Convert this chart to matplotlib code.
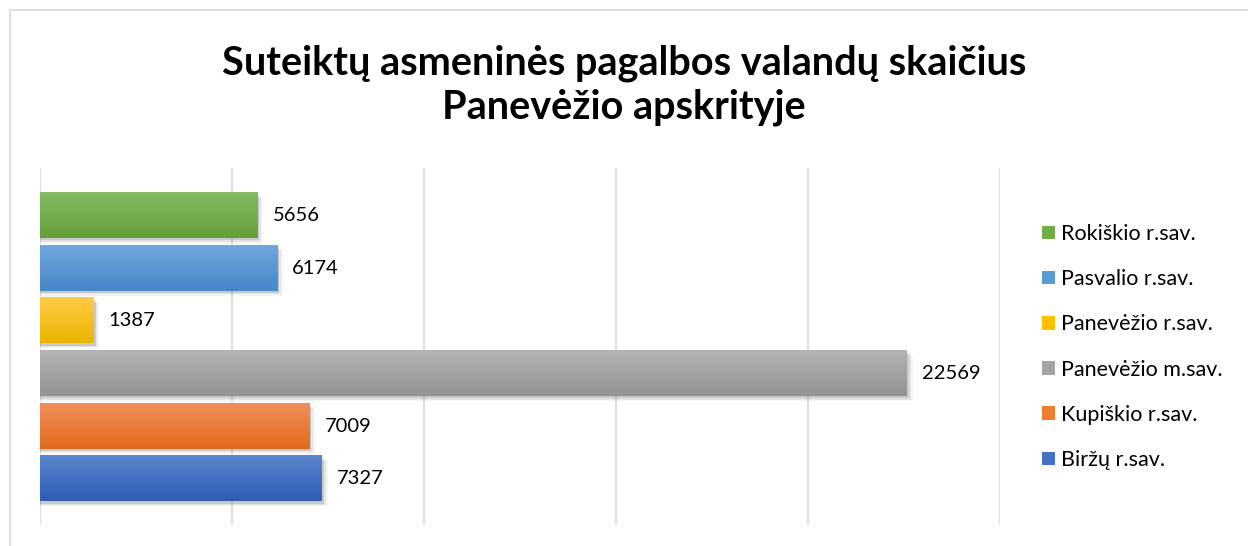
import numpy as np
import matplotlib.pyplot as plt
from matplotlib.colors import LinearSegmentedColormap
from matplotlib.patches import Rectangle, Patch

plt.rcParams['font.family'] = ['Lato', 'DejaVu Sans']

# data, bottom to top as drawn
municipalities = ['Biržų r.sav.', 'Kupiškio r.sav.', 'Panevėžio m.sav.',
                  'Panevėžio r.sav.', 'Pasvalio r.sav.', 'Rokiškio r.sav.']
hours = [7327, 7009, 22569, 1387, 6174, 5656]
top_colors = ['#5E86D0', '#F18F5A', '#B3B3B3', '#FFCB45', '#70A6DE', '#84BA63']
bottom_colors = ['#2F5DB5', '#E2691C', '#939393', '#EBB500', '#4587C9', '#66A039']
mid_colors = ['#4472C4', '#ED7D31', '#A5A5A5', '#FFC000', '#5B9BD5', '#70AD47']

title = 'Suteiktų asmeninės pagalbos valandų skaičius\nPanevėžio apskrityje'

W, H = 1248, 546
fig = plt.figure(figsize=(W / 100, H / 100), dpi=100)
fig.patch.set_facecolor('white')

# outer chart border (only top and left visible in the crop)
fig.add_artist(Rectangle((10 / W, -0.1), 1.2, (H - 10) / H + 0.1, transform=fig.transFigure,
                         fill=False, edgecolor='#d9d9d9', linewidth=1.2))

ax = fig.add_axes([40 / W, (H - 525) / H, 960 / W, (525 - 168) / H])
ax.set_facecolor('none')

bar_h = 0.86
for i, (v, c1, c2) in enumerate(zip(hours, top_colors, bottom_colors)):
    y0, y1 = i - bar_h / 2, i + bar_h / 2
    # soft shadow
    for k, a in enumerate([0.11, 0.07, 0.04]):
        dx = 60 + 50 * k
        dy = 0.045 + 0.025 * k
        ax.add_patch(Rectangle((0, y0 - dy), v + dx, bar_h, facecolor='black',
                               alpha=a, edgecolor='none', zorder=2))
    cmap = LinearSegmentedColormap.from_list('g', [c2, c1])
    grad = np.linspace(0, 1, 64).reshape(-1, 1)
    ax.imshow(grad, cmap=cmap, origin='lower', aspect='auto',
              extent=[0, v, y0, y1], zorder=3, interpolation='bicubic')
    ax.annotate(str(v), (v, i), xytext=(11, 0), textcoords='offset points',
                va='center', ha='left', fontsize=14.5, color='#000000')

ax.set_xlim(0, 25000)
ax.set_ylim(-0.88, 5.9)
ax.set_xticks(np.arange(0, 25001, 5000))
ax.set_yticks([])
ax.tick_params(axis='x', length=0, labelbottom=False)
ax.grid(axis='x', color='#d9d9d9', linewidth=1.2, zorder=0)
ax.set_axisbelow(True)
for s in ax.spines.values():
    s.set_visible(False)

fig.text(0.5, (H - 85) / H, title, ha='center', va='center', fontsize=28.5,
         fontweight='bold', linespacing=1.22)

handles = [Patch(facecolor=c, edgecolor='none') for c in mid_colors[::-1]]
fig.legend(handles, municipalities[::-1], loc='upper left',
           bbox_to_anchor=(1042 / W, (H - 224) / H), frameon=False,
           fontsize=15.5, handlelength=0.6, handleheight=0.6, handletextpad=0.3,
           labelspacing=1.17, borderaxespad=0, borderpad=0)

fig.savefig('out.png', dpi=100)
